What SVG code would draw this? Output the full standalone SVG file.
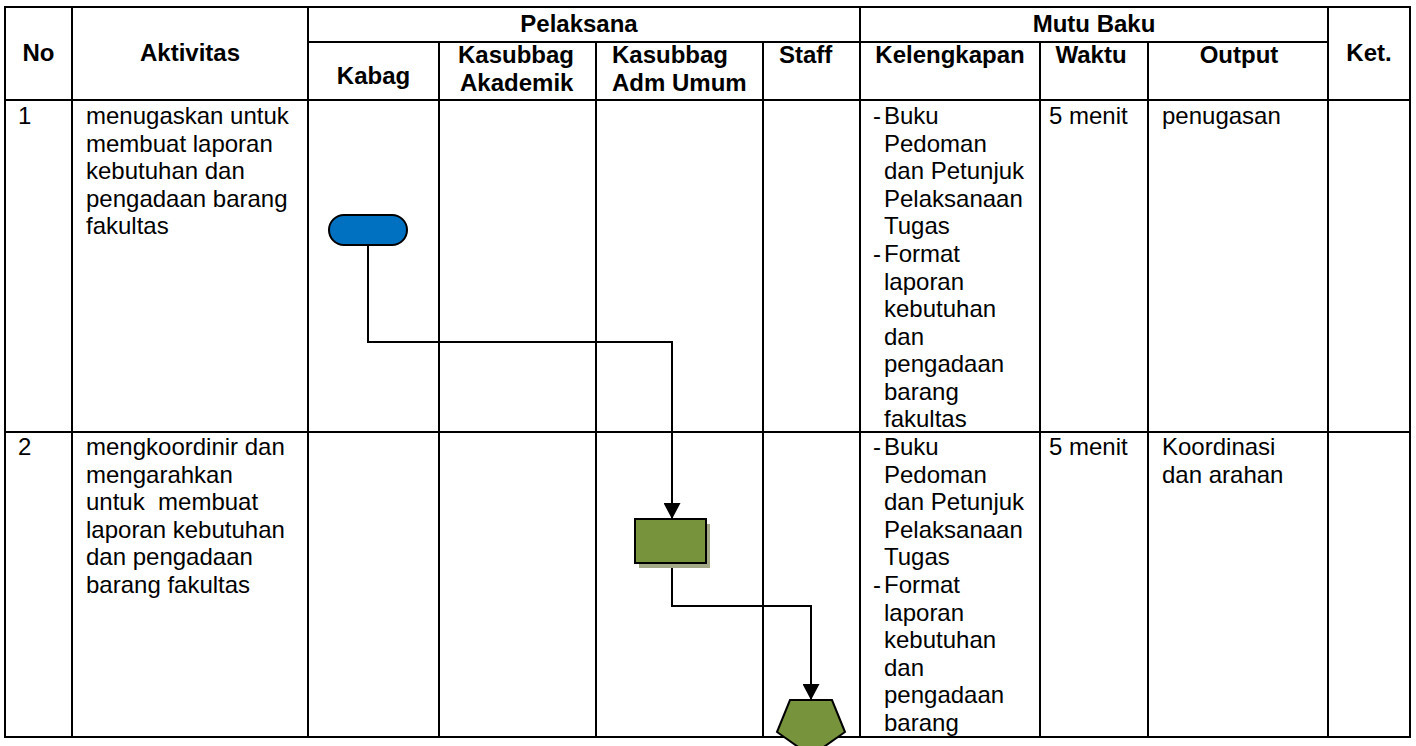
<svg xmlns="http://www.w3.org/2000/svg" width="1416" height="746" viewBox="0 0 1416 746">
<defs>
<style>
.grid{stroke:#000;stroke-width:2;fill:none}
.h{font-family:"Liberation Sans",Arial,sans-serif;font-size:24px;font-weight:bold;fill:#000}
.t{font-family:"Liberation Sans",Arial,sans-serif;font-size:24px;fill:#000}
.c{text-anchor:middle}
.conn{stroke:#000;stroke-width:2;fill:none}
</style>
<marker id="arr" markerWidth="16" markerHeight="17" viewBox="0 0 16 17" refX="16" refY="8.5" orient="auto" markerUnits="userSpaceOnUse">
<path d="M0,0 L16,8.5 L0,17 Z" fill="#000"/>
</marker>
</defs>
<rect width="1416" height="746" fill="#fff"/>
<g id="table" class="grid">
<rect x="5" y="7" width="1405" height="730"/>
<line x1="308" y1="42" x2="1328" y2="42"/>
<line x1="5" y1="100" x2="1410" y2="100"/>
<line x1="5" y1="432" x2="1410" y2="432"/>
<line x1="72" y1="7" x2="72" y2="737"/>
<line x1="308" y1="7" x2="308" y2="737"/>
<line x1="439" y1="42" x2="439" y2="737"/>
<line x1="596" y1="42" x2="596" y2="737"/>
<line x1="763" y1="42" x2="763" y2="737"/>
<line x1="860" y1="7" x2="860" y2="737"/>
<line x1="1040" y1="42" x2="1040" y2="737"/>
<line x1="1148" y1="42" x2="1148" y2="737"/>
<line x1="1328" y1="7" x2="1328" y2="737"/>
</g>
<g id="header">
<text class="h c" x="38.5" y="61">No</text>
<text class="h c" x="190" y="61">Aktivitas</text>
<text class="h c" x="579" y="32">Pelaksana</text>
<text class="h c" x="1094" y="32">Mutu Baku</text>
<text class="h c" x="1369" y="61">Ket.</text>
<text class="h c" x="373.5" y="84">Kabag</text>
<text class="h"><tspan x="458" y="63">Kasubbag</tspan><tspan x="460" y="90.6">Akademik</tspan></text>
<text class="h"><tspan x="612" y="63">Kasubbag</tspan><tspan x="612" y="90.6">Adm Umum</tspan></text>
<text class="h" x="779" y="63">Staff</text>
<text class="h c" x="950" y="63">Kelengkapan</text>
<text class="h c" x="1091" y="63">Waktu</text>
<text class="h c" x="1239" y="63">Output</text>
</g>
<g id="row1">
<text class="t" x="18" y="124">1</text>
<text class="t"><tspan x="86" y="124">menugaskan untuk</tspan><tspan x="86" y="151.6">membuat laporan</tspan><tspan x="86" y="179.2">kebutuhan dan</tspan><tspan x="86" y="206.8">pengadaan barang</tspan><tspan x="86" y="234.4">fakultas</tspan></text>
<text class="t"><tspan x="873" y="124">-</tspan><tspan x="884" y="124">Buku</tspan><tspan x="884" y="151.6">Pedoman</tspan><tspan x="884" y="179.2">dan Petunjuk</tspan><tspan x="884" y="206.8">Pelaksanaan</tspan><tspan x="884" y="234.4">Tugas</tspan><tspan x="873" y="262">-</tspan><tspan x="884" y="262">Format</tspan><tspan x="884" y="289.6">laporan</tspan><tspan x="884" y="317.2">kebutuhan</tspan><tspan x="884" y="344.8">dan</tspan><tspan x="884" y="372.4">pengadaan</tspan><tspan x="884" y="400">barang</tspan><tspan x="884" y="427.4">fakultas</tspan></text>
<text class="t" x="1049" y="124">5 menit</text>
<text class="t" x="1162" y="124">penugasan</text>
</g>
<g id="row2">
<text class="t" x="18" y="455">2</text>
<text class="t" style="white-space:pre"><tspan x="86" y="455">mengkoordinir dan</tspan><tspan x="86" y="482.6">mengarahkan</tspan><tspan x="86" y="510.2">untuk  membuat</tspan><tspan x="86" y="537.8">laporan kebutuhan</tspan><tspan x="86" y="565.4">dan pengadaan</tspan><tspan x="86" y="593">barang fakultas</tspan></text>
<text class="t"><tspan x="873" y="455">-</tspan><tspan x="884" y="455">Buku</tspan><tspan x="884" y="482.6">Pedoman</tspan><tspan x="884" y="510.2">dan Petunjuk</tspan><tspan x="884" y="537.8">Pelaksanaan</tspan><tspan x="884" y="565.4">Tugas</tspan><tspan x="873" y="593">-</tspan><tspan x="884" y="593">Format</tspan><tspan x="884" y="620.6">laporan</tspan><tspan x="884" y="648.2">kebutuhan</tspan><tspan x="884" y="675.8">dan</tspan><tspan x="884" y="703.4">pengadaan</tspan><tspan x="884" y="731">barang</tspan></text>
<text class="t" x="1049" y="455">5 menit</text>
<text class="t"><tspan x="1162" y="455">Koordinasi</tspan><tspan x="1162" y="482.6">dan arahan</tspan></text>
</g>
<g id="connectors">
<polyline class="conn" points="368,245 368,342 672,342 672,519" marker-end="url(#arr)"/>
<polyline class="conn" points="672,563 672,606 811,606 811,700" marker-end="url(#arr)"/>
</g>
<g id="node-start">
<rect x="329" y="215" width="78" height="30" rx="15" ry="15" fill="#0070C0" stroke="#000" stroke-width="2"/>
</g>
<g id="node-process">
<rect x="639" y="524" width="71" height="44" fill="#A3A886"/>
<rect x="635" y="519" width="71" height="44" fill="#77933C" stroke="#000" stroke-width="2"/>
</g>
<g id="node-offpage">
<polygon points="790,700 832,700 845,732 811,756 777,732" fill="#77933C" stroke="#000" stroke-width="2"/>
</g>
</svg>
